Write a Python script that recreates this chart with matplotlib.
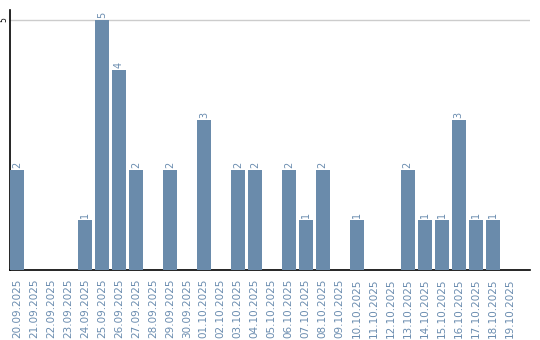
import matplotlib
matplotlib.use("Agg")
import matplotlib.pyplot as plt

dates = ["20.09.2025", "21.09.2025", "22.09.2025", "23.09.2025", "24.09.2025",
         "25.09.2025", "26.09.2025", "27.09.2025", "28.09.2025", "29.09.2025",
         "30.09.2025", "01.10.2025", "02.10.2025", "03.10.2025", "04.10.2025",
         "05.10.2025", "06.10.2025", "07.10.2025", "08.10.2025", "09.10.2025",
         "10.10.2025", "11.10.2025", "12.10.2025", "13.10.2025", "14.10.2025",
         "15.10.2025", "16.10.2025", "17.10.2025", "18.10.2025", "19.10.2025"]
counts = [2, 0, 0, 0, 1, 5, 4, 2, 0, 2,
          0, 3, 0, 2, 2, 0, 2, 1, 2, 0,
          1, 0, 0, 2, 1, 1, 3, 1, 1, 0]

bar_color = "#6a8bab"
text_color = "#6a8caf"

fig = plt.figure(figsize=(5.4, 3.4), dpi=100)
ax = fig.add_axes([10 / 540, 70 / 340, 520 / 540, 260 / 340])

x = list(range(len(dates)))
ax.bar(x, counts, width=0.82, color=bar_color, zorder=3)
for xi, c in zip(x, counts):
    if c > 0:
        ax.text(xi, c + 0.04, str(c), rotation=90, ha="center", va="bottom",
                fontsize=7, color=text_color)

ax.set_xlim(-0.41, 30.2)
ax.set_ylim(0, 5.2)
ax.axhline(5, color="#cccccc", linewidth=1, zorder=1)

ax.set_xticks(x)
ax.set_xticklabels(dates, rotation=90, fontsize=7.5, color=text_color)
ax.set_yticks([5])
ax.set_yticklabels(["5"], rotation=90, fontsize=5.5, va="center")
ax.tick_params(axis="x", length=0, pad=6)
ax.tick_params(axis="y", length=0, pad=1.5)

for side in ["top", "right"]:
    ax.spines[side].set_visible(False)
ax.spines["left"].set_linewidth(1.2)
ax.spines["bottom"].set_linewidth(1.2)

fig.savefig("out.png", dpi=100)
